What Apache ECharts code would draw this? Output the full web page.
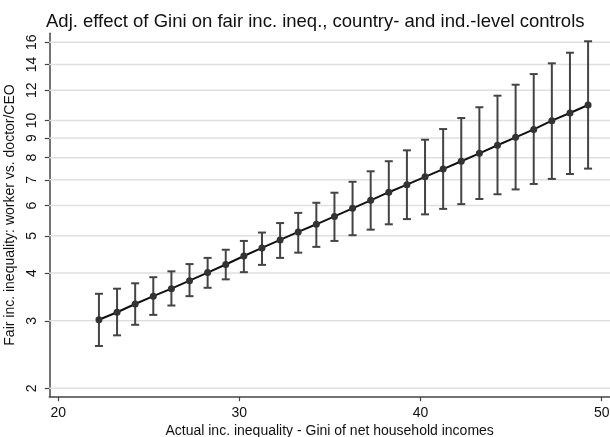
<!DOCTYPE html>
<html>
<head>
<meta charset="utf-8">
<script src="https://cdn.jsdelivr.net/npm/echarts@6/dist/echarts.min.js"></script>
<style>
  html, body { margin: 0; padding: 0; background: #ffffff; }
  #chart { width: 610px; height: 437px; }
</style>
</head>
<body>
<div id="chart"></div>
<script>
// Gini of net household incomes at which the adjusted prediction is evaluated
const gini = [22.25, 23.25, 24.25, 25.25, 26.25, 27.25, 28.25, 29.25, 30.25, 31.25,
              32.25, 33.25, 34.25, 35.25, 36.25, 37.25, 38.25, 39.25, 40.25, 41.25,
              42.25, 43.25, 44.25, 45.25, 46.25, 47.25, 48.25, 49.25];
// Predicted fair income inequality (worker vs. doctor/CEO ratio)
const fairIneq = [3.02, 3.16, 3.32, 3.48, 3.64, 3.82, 4.01, 4.21, 4.43, 4.65,
                  4.88, 5.12, 5.36, 5.62, 5.90, 6.19, 6.50, 6.80, 7.13, 7.47,
                  7.83, 8.21, 8.62, 9.04, 9.48, 9.99, 10.46, 10.98];
// 95% confidence interval bounds
const ciLower = [2.58, 2.75, 2.93, 3.11, 3.29, 3.48, 3.66, 3.85, 4.02, 4.20,
                 4.38, 4.52, 4.68, 4.85, 5.02, 5.19, 5.36, 5.53, 5.69, 5.88,
                 6.05, 6.24, 6.42, 6.61, 6.83, 7.04, 7.25, 7.49];
const ciUpper = [3.53, 3.64, 3.76, 3.90, 4.04, 4.22, 4.38, 4.60, 4.85, 5.10,
                 5.40, 5.74, 6.10, 6.48, 6.92, 7.37, 7.83, 8.36, 8.91, 9.50,
                 10.15, 10.83, 11.61, 12.40, 13.22, 14.10, 15.03, 16.10];
// Axis tick labels
const yTicks = [2, 3, 4, 5, 6, 7, 8, 9, 10, 12, 14, 16];
const xTicks = [20, 30, 40, 50];

const FONT = 'Liberation Sans, Arial, sans-serif';
const X_MIN = 19.51;
const chart = echarts.init(document.getElementById('chart'), null, { renderer: 'canvas' });

const pointData = gini.map((g, i) => [g, fairIneq[i]]);
const ciData = gini.map((g, i) => [g, ciLower[i], ciUpper[i]]);

chart.setOption({
  animation: false,
  backgroundColor: '#ffffff',
  title: {
    text: 'Adj. effect of Gini on fair inc. ineq., country- and ind.-level controls',
    left: 41,
    top: 7,
    textStyle: { fontFamily: FONT, fontSize: 18.5, fontWeight: 'normal', color: '#111111' }
  },
  grid: { left: 49.3, right: 0, top: 33.3, bottom: 40.3, containLabel: false, outerBoundsMode: 'none' },
  xAxis: {
    type: 'value',
    min: X_MIN,
    max: 50.46,
    name: 'Actual inc. inequality - Gini of net household incomes',
    nameLocation: 'middle',
    nameGap: 24,
    nameTextStyle: { fontFamily: FONT, fontSize: 14, color: '#111111' },
    axisLine: { show: true, onZero: false, lineStyle: { color: '#444444', width: 1.5 } },
    axisTick: { show: true, inside: false, length: 4.5, customValues: xTicks,
                lineStyle: { color: '#444444', width: 1.2 } },
    axisLabel: { show: true, customValues: xTicks, margin: 9,
                 fontFamily: FONT, fontSize: 14, color: '#111111' },
    splitLine: { show: false }
  },
  yAxis: {
    type: 'log',
    logBase: 10,
    min: 1.902,
    max: 16.89,
    name: 'Fair inc. inequality: worker vs. doctor/CEO',
    nameLocation: 'middle',
    nameRotate: 90,
    nameGap: 27,
    nameTextStyle: { fontFamily: FONT, fontSize: 14, color: '#111111' },
    axisLine: { show: true, onZero: false, lineStyle: { color: '#444444', width: 1.5 } },
    axisTick: { show: true, inside: false, length: 4.5, customValues: yTicks,
                lineStyle: { color: '#444444', width: 1.2 } },
    axisLabel: { show: true, customValues: yTicks, rotate: 90, margin: 10,
                 fontFamily: FONT, fontSize: 14, color: '#111111' },
    splitLine: { show: false }
  },
  series: [
    {
      // horizontal grid lines at every labelled y tick
      name: 'gridLines',
      type: 'custom',
      data: yTicks.map(v => [v]),
      encode: { y: 0 },
      z: 1,
      silent: true,
      renderItem: function (params, api) {
        const cs = params.coordSys;
        const p = api.coord([X_MIN, api.value(0)]);
        return {
          type: 'line',
          shape: { x1: cs.x, y1: p[1], x2: cs.x + cs.width, y2: p[1] },
          style: { stroke: '#dfdfdf', lineWidth: 1.5 }
        };
      }
    },
    {
      name: 'CI',
      type: 'custom',
      data: ciData,
      encode: { x: 0, y: [1, 2] },
      z: 2,
      renderItem: function (params, api) {
        const x = api.value(0);
        const lo = api.coord([x, api.value(1)]);
        const hi = api.coord([x, api.value(2)]);
        const cap = 4;
        const style = { stroke: '#444444', lineWidth: 2 };
        return {
          type: 'group',
          children: [
            { type: 'line', shape: { x1: lo[0], y1: lo[1], x2: hi[0], y2: hi[1] }, style: style },
            { type: 'line', shape: { x1: lo[0] - cap, y1: lo[1], x2: lo[0] + cap, y2: lo[1] }, style: style },
            { type: 'line', shape: { x1: hi[0] - cap, y1: hi[1], x2: hi[0] + cap, y2: hi[1] }, style: style }
          ]
        };
      }
    },
    {
      name: 'Prediction',
      type: 'line',
      data: pointData,
      z: 3,
      symbol: 'circle',
      symbolSize: 7,
      showSymbol: true,
      lineStyle: { color: '#111111', width: 2 },
      itemStyle: { color: '#333333' }
    }
  ]
});
</script>
</body>
</html>
